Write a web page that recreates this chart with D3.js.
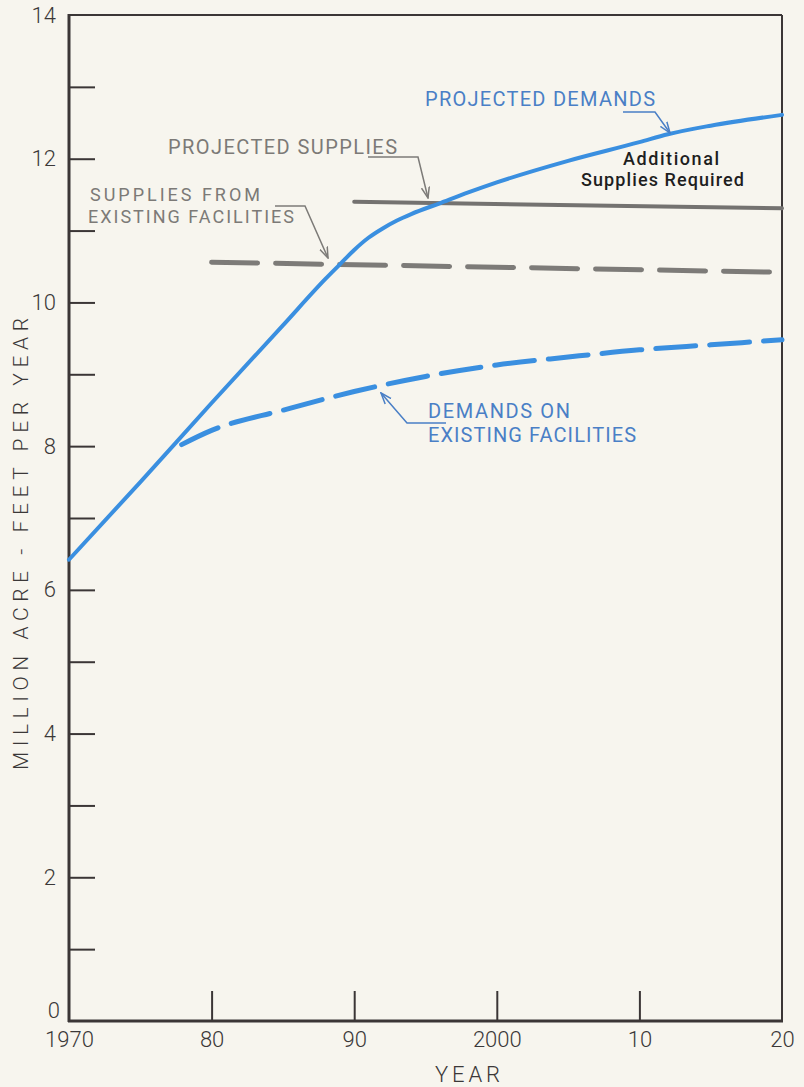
<!DOCTYPE html>
<html>
<head>
<meta charset="utf-8">
<script src="https://cdn.jsdelivr.net/npm/d3@7/dist/d3.min.js"></script>
<style>
  html, body { margin: 0; padding: 0; background: #f7f5ee; }
  svg { display: block; }
  text { font-family: Roboto, "DejaVu Sans", sans-serif; }
</style>
</head>
<body>
<svg id="chart" width="804" height="1087"></svg>
<script>
// ---- Data ----
const projectedDemandYears  = [1970, 1975, 1980, 1985, 1988, 1989, 1990, 1991, 1992, 1993, 1994, 1996, 1998, 2000, 2005, 2010, 2012, 2015, 2020];
const projectedDemandValues = [6.42, 7.50, 8.60, 9.68, 10.33, 10.53, 10.73, 10.90, 11.03, 11.14, 11.23, 11.38, 11.53, 11.67, 11.97, 12.23, 12.34, 12.46, 12.61];

const existingDemandYears  = [1977.4, 1980, 1985, 1990, 1995, 2000, 2005, 2010, 2015, 2020];
const existingDemandValues = [7.97, 8.22, 8.50, 8.76, 8.97, 9.13, 9.24, 9.34, 9.41, 9.48];

const projectedSupplyYears  = [1990, 2020];
const projectedSupplyValues = [11.40, 11.31];

const existingSupplyYears  = [1980, 2020];
const existingSupplyValues = [10.56, 10.42];

const xTickValues = [1970, 1980, 1990, 2000, 2010, 2020];
const xTickLabels = ["1970", "80", "90", "2000", "10", "20"];
const yTickValues = [0,1,2,3,4,5,6,7,8,9,10,11,12,13,14];
const yTickLabels = ["0","","2","","4","","6","","8","","10","","12","","14"];

(function draw() {
  const svg = d3.select("#chart");
  const pL = 69, pR = 782, pT = 15, pB = 1021;
  const x = d3.scaleLinear().domain([1970, 2020]).range([pL, pR]);
  const y = d3.scaleLinear().domain([0, 14]).range([pB, pT]);

  const axisColor = "#3b3636";
  const blue = "#3a8fe0";
  const blueText = "#4a7fc6";
  const grayLine = "#7d7b78";
  const grayText = "#7c7a77";

  svg.append("rect").attr("width", 804).attr("height", 1087).attr("fill", "#f7f5ee");

  const defs = svg.append("defs");
  function marker(id, color) {
    defs.append("marker")
      .attr("id", id).attr("viewBox", "0 0 12 10")
      .attr("refX", 11).attr("refY", 5)
      .attr("markerWidth", 12).attr("markerHeight", 10)
      .attr("markerUnits", "userSpaceOnUse")
      .attr("orient", "auto")
      .append("path").attr("d", "M0,1 L11,5 L0,9")
      .attr("fill", "none").attr("stroke", color).attr("stroke-width", 1.5);
  }
  marker("arrBlue", blueText);
  marker("arrGray", grayLine);

  // ---- Axes ----
  const yAxis = d3.axisLeft(y).tickValues(yTickValues)
    .tickFormat((d, i) => yTickLabels[i]).tickSize(-26).tickSizeOuter(0).tickPadding(13);
  const gy = svg.append("g").attr("transform", `translate(${pL},0)`).call(yAxis);
  gy.select(".domain").remove();
  gy.selectAll(".tick line").attr("stroke", axisColor).attr("stroke-width", 2)
    .filter(d => d === 0 || d === 14).remove();
  gy.selectAll(".tick text").attr("font-size", 22).attr("fill", "#3b3838").attr("font-weight", 300)
    .attr("font-family", "Roboto, sans-serif")
    .filter(d => d === 0).attr("dy", "-0.15em").attr("x", -9);

  const xAxis = d3.axisBottom(x).tickValues(xTickValues)
    .tickFormat((d, i) => xTickLabels[i]).tickSize(-30).tickSizeOuter(0).tickPadding(10);
  const gx = svg.append("g").attr("transform", `translate(0,${pB})`).call(xAxis);
  gx.select(".domain").remove();
  gx.selectAll(".tick line").attr("stroke", axisColor).attr("stroke-width", 2)
    .filter(d => d === 1970 || d === 2020).remove();
  gx.selectAll(".tick text").attr("font-size", 22).attr("fill", "#3b3838").attr("font-weight", 300)
    .attr("font-family", "Roboto, sans-serif");

  // frame
  svg.append("line").attr("x1", pL).attr("x2", pR).attr("y1", pT).attr("y2", pT)
    .attr("stroke", axisColor).attr("stroke-width", 2);
  svg.append("line").attr("x1", pR).attr("x2", pR).attr("y1", pT).attr("y2", pB)
    .attr("stroke", axisColor).attr("stroke-width", 2);
  svg.append("line").attr("x1", pL).attr("x2", pL).attr("y1", pT - 1).attr("y2", pB + 1)
    .attr("stroke", axisColor).attr("stroke-width", 3);
  svg.append("line").attr("x1", pL - 1).attr("x2", pR + 1).attr("y1", pB).attr("y2", pB)
    .attr("stroke", axisColor).attr("stroke-width", 3);

  // axis titles
  svg.append("text").attr("transform", `translate(28,544) rotate(-90)`)
    .attr("text-anchor", "middle").attr("font-size", 21).attr("font-weight", 300)
    .attr("fill", "#3b3838").attr("textLength", 452).attr("lengthAdjust", "spacing")
    .text("MILLION  ACRE - FEET  PER  YEAR");
  svg.append("text").attr("x", 435).attr("y", 1082)
    .attr("font-size", 22).attr("font-weight", 300).attr("fill", "#3b3838")
    .attr("textLength", 65).attr("lengthAdjust", "spacing").text("YEAR");

  // ---- Lines ----
  const zip = (a, b) => a.map((v, i) => [v, b[i]]);
  const straight = d3.line().x(d => x(d[0])).y(d => y(d[1]));
  const smooth = d3.line().x(d => x(d[0])).y(d => y(d[1])).curve(d3.curveMonotoneX);

  svg.append("path").datum(zip(existingSupplyYears, existingSupplyValues))
    .attr("d", straight).attr("fill", "none").attr("stroke", grayLine).attr("stroke-width", 5)
    .attr("stroke-linecap", "round").attr("stroke-dasharray", "46,18");

  svg.append("path").datum(zip(projectedSupplyYears, projectedSupplyValues))
    .attr("d", straight).attr("fill", "none").attr("stroke", "#747270").attr("stroke-width", 4)
    .attr("stroke-linecap", "round");

  svg.append("path").datum(zip(existingDemandYears, existingDemandValues))
    .attr("d", smooth).attr("fill", "none").attr("stroke", blue)
    .attr("stroke-width", 5).attr("stroke-linecap", "round").attr("stroke-dasharray", "40,14")
    .attr("stroke-dashoffset", -8);

  svg.append("path").datum(zip(projectedDemandYears, projectedDemandValues))
    .attr("d", smooth).attr("fill", "none").attr("stroke", blue)
    .attr("stroke-width", 4).attr("stroke-linecap", "round");

  // ---- Annotations ----
  function label(txt, x0, y0, len, color, size, weight) {
    svg.append("text").attr("x", x0).attr("y", y0).attr("font-size", size)
      .attr("font-weight", weight).attr("fill", color)
      .attr("textLength", len).attr("lengthAdjust", "spacing").text(txt);
  }
  label("PROJECTED DEMANDS", 425, 106, 230, blueText, 20, 400);
  label("PROJECTED SUPPLIES", 168, 154, 229, grayText, 20, 400);
  label("SUPPLIES FROM", 90, 201, 170, grayText, 18, 400);
  label("EXISTING FACILITIES", 88, 223, 206, grayText, 18, 400);
  label("DEMANDS ON", 428, 418, 142, blueText, 20, 400);
  label("EXISTING FACILITIES", 428, 442, 208, blueText, 20, 400);
  label("Additional", 623, 165, 96, "#1e1e1e", 18, 500);
  label("Supplies Required", 581, 186, 163, "#1e1e1e", 18, 500);

  function leader(d, color, mk) {
    svg.append("path").attr("d", d).attr("fill", "none").attr("stroke", color)
      .attr("stroke-width", 1.5).attr("marker-end", `url(#${mk})`);
  }
  leader("M623,112 H655 L670,133", blueText, "arrBlue");
  leader("M368,157 H418 L428,198", grayLine, "arrGray");
  leader("M275,206 H305 L328,258", grayLine, "arrGray");
  leader("M446,423 H407 L381,393", blueText, "arrBlue");
})();
</script>
</body>
</html>
